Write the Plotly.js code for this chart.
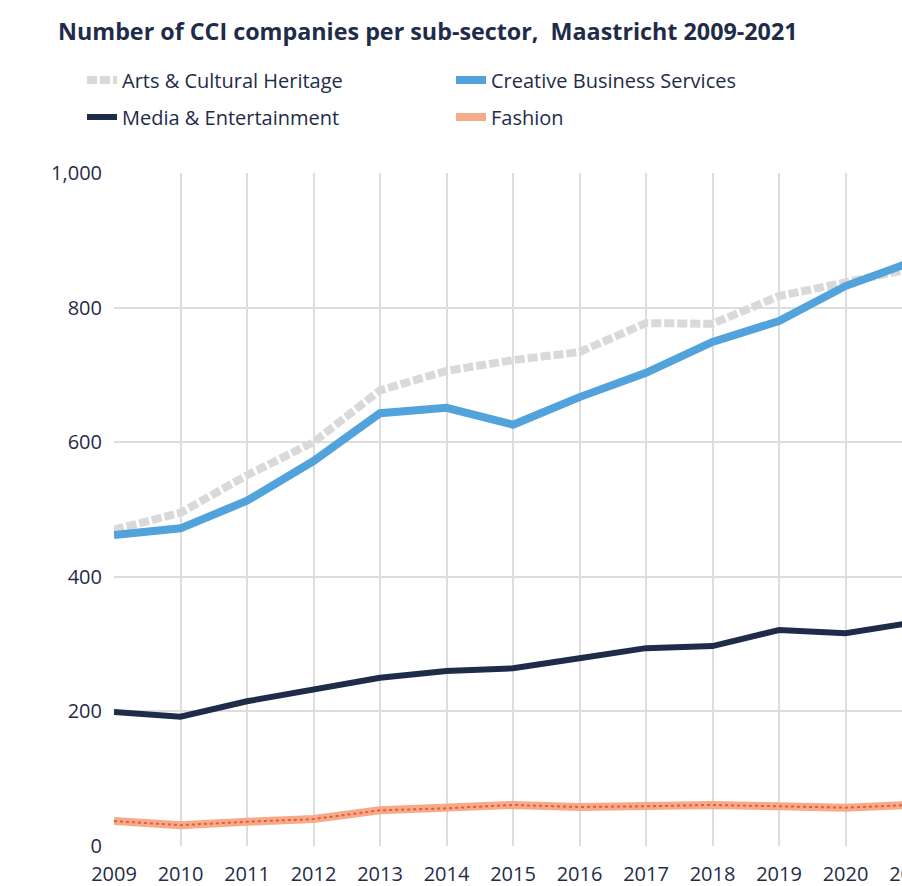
<!DOCTYPE html>
<html><head><meta charset="utf-8">
<script src="https://cdn.plot.ly/plotly-3.0.1.min.js"></script>
<style>html,body{margin:0;padding:0;overflow:hidden;background:#fff}</style>
</head><body>
<div id="chart"></div>
<script>
const years = [2009,2010,2011,2012,2013,2014,2015,2016,2017,2018,2019,2020,2021];
const arts = [470,495,551,600,677,706,722,734,777,776,817,838,858];
const creative = [462,472,513,572,643,651,626,667,703,749,780,832,868];
const media = [199,192,215,232,250,260,264,279,294,297,321,316,332];
const fashion = [37,31,36,40,53,56,61,58,59,61,59,57,61];
const yTicks = [0,200,400,600,800,1000];
const yTickText = ['0','200','400','600','800','1,000'];

const navy = '#1f2c49';
const traces = [
  {x: years, y: arts, name: 'Arts & Cultural Heritage', mode: 'lines', legend: 'legend', legendrank: 1,
   line: {color: '#d9d9db', width: 8, dash: '10px,3px'}},
  {x: years, y: media, name: 'Media & Entertainment', mode: 'lines', legend: 'legend2', legendrank: 1,
   line: {color: navy, width: 6}},
  {x: years, y: fashion, name: 'Fashion', mode: 'lines', legend: 'legend2', legendrank: 2, legendgroup: 'f',
   line: {color: '#f5ab8a', width: 8}},
  {x: years, y: fashion, name: 'Fashion', mode: 'lines', showlegend: false, legend: 'legend2', legendgroup: 'f',
   line: {color: '#e95a35', width: 2, dash: 'dot'}},
  {x: years, y: creative, name: 'Creative Business Services', mode: 'lines', legend: 'legend', legendrank: 2,
   line: {color: '#52a3db', width: 8}}
];

const legendBase = {orientation: 'h', xref: 'container', xanchor: 'left', x: 82/940,
  yref: 'container', yanchor: 'middle', entrywidth: 324, entrywidthmode: 'pixels',
  font: {size: 20, color: navy}, bgcolor: 'rgba(0,0,0,0)'};

const layout = {
  width: 940, height: 886,
  margin: {l: 114, r: 28, t: 173, b: 40},
  paper_bgcolor: '#fff', plot_bgcolor: '#fff',
  font: {family: 'Open Sans, sans-serif', color: navy, size: 19},
  title: {text: '<b>Number of CCI companies per sub-sector,  Maastricht 2009-2021</b>',
          x: 58/940, xref: 'container', xanchor: 'left', y: 1 - 32/886, yref: 'container', yanchor: 'middle',
          font: {family: 'Open Sans, sans-serif', size: 23.3, color: navy}},
  showlegend: true,
  legend: Object.assign({}, legendBase, {y: 1 - 80/886}),
  legend2: Object.assign({}, legendBase, {y: 1 - 117/886}),
  xaxis: {range: [2009, 2021], tickvals: years, ticks: '', showline: false,
          showgrid: true, gridcolor: '#dddddd', gridwidth: 2, zeroline: false,
          ticklabelstandoff: 14, tickfont: {size: 20, color: navy}, fixedrange: true},
  yaxis: {range: [0, 1000], tickvals: yTicks, ticktext: yTickText, ticks: '',
          showgrid: true, gridcolor: '#dddddd', gridwidth: 2, zeroline: false,
          showline: false, ticklabelstandoff: 11, tickfont: {size: 20, color: navy}, fixedrange: true}
};
Plotly.newPlot('chart', traces, layout, {displayModeBar: false, staticPlot: true});
</script>
</body></html>
